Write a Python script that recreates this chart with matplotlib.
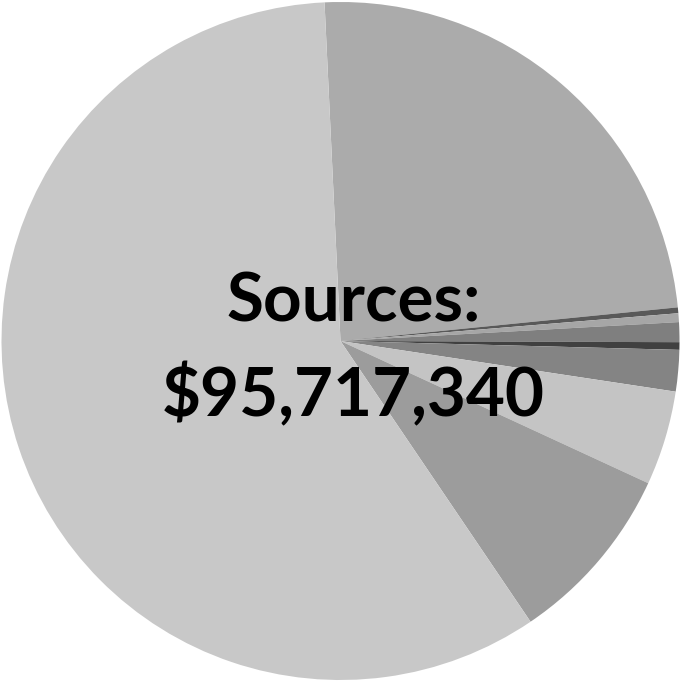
import matplotlib
matplotlib.use("Agg")
import matplotlib.pyplot as plt

# Slice shares (degrees of the circle), clockwise from top
shares = [87.0, 1.0, 1.5, 3.4, 1.3, 7.1, 16.2, 31.1, 211.4]
colors = ["#ABABAB", "#595959", "#A6A6A6", "#7F7F7F", "#404040",
          "#848484", "#C4C4C4", "#9C9C9C", "#C8C8C8"]
title_lines = ["Sources:", "$95,717,340"]

fig = plt.figure(figsize=(6.81, 6.81), dpi=100)
ax = fig.add_axes([0, 0, 1, 1])
ax.pie(shares, colors=colors, startangle=92.7, counterclock=False,
       radius=339, center=(0, 0), wedgeprops=dict(linewidth=0))
ax.set_xlim(-340.5, 340.5)
ax.set_ylim(-340, 341)
ax.set_aspect("equal")
ax.axis("off")

ax.text(13, 38, title_lines[0], ha="center", va="center", fontsize=48.5,
        fontweight="bold", family=["Lato", "DejaVu Sans"])
ax.text(13, -55, title_lines[1], ha="center", va="center", fontsize=48.5,
        fontweight="bold", family=["Lato", "DejaVu Sans"])

fig.savefig("out.png", dpi=100)
